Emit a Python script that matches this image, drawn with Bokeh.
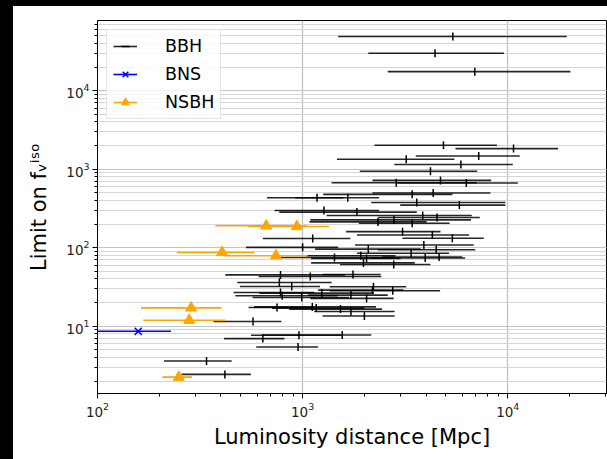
from math import pi
from bokeh.plotting import figure
from bokeh.models import ColumnDataSource, Legend, LegendItem, Div, Range1d
from bokeh.layouts import row, column
from bokeh.embed import file_html
from bokeh.resources import INLINE

# ---- data: luminosity distance (Mpc), lower/upper bound, limit on f_nu^iso ----
bbh_dist = [5400, 4420, 6910, 4860, 10670, 7220, 3200, 5910, 4200, 4700,
            2860, 6280, 4330, 3420, 1175, 1660, 3600, 5810, 1270, 1840,
            3850, 4520, 2790, 2330, 3420, 3070, 4290, 5370, 1120, 1000,
            3900, 2090, 4480, 3380, 1920, 1430, 3960, 4630, 2050, 1980,
            2780, 780, 1090, 1760, 770, 885, 2215, 2750, 2190, 780,
            1240, 1720, 795, 990, 2050, 750, 1115, 1165, 1530, 1720,
            2000, 573, 1560, 960, 640, 950, 340, 418]
bbh_lo = [1490, 2090, 2600, 2240, 5560, 3560, 1470, 2800, 1900, 2190,
          1385, 2900, 2190, 1260, 670, 920, 2160, 2990, 730, 770,
          1310, 2330, 1090, 1080, 1880, 1630, 1840, 3070, 640, 530,
          1800, 1150, 2330, 1840, 1040, 780, 2140, 2440, 1100, 1100,
          1520, 420, 610, 1250, 480, 495, 1355, 1355, 1190, 460,
          615, 1060, 470, 570, 1090, 545, 580, 710, 860, 1140,
          1250, 368, 634, 560, 414, 594, 211, 257]
bbh_hi = [19400, 9580, 20200, 8860, 17600, 11440, 5490, 10580, 7100, 8300,
          7070, 11200, 8230, 5370, 1580, 2360, 9740, 9740, 2360, 3600,
          6680, 7310, 6620, 4020, 5210, 4700, 6480, 7640, 1710, 1490,
          6820, 3760, 6940, 5170, 2840, 2810, 6200, 6000, 3000, 3520,
          4200, 1610, 2420, 2400, 1385, 1216, 3200, 4680, 3100, 1140,
          2230, 2600, 1480, 1680, 2780, 1140, 2280, 2000, 2440, 2810,
          2810, 787, 2160, 1540, 815, 1190, 451, 559]
bbh_lim = [49000, 30000, 17500, 2020, 1830, 1475, 1340, 1150, 940, 720,
           673, 667, 497, 478, 433, 433, 377, 349, 298, 284,
           257, 243, 226, 213, 205, 160, 145, 132, 131, 101,
           108, 96, 94, 85, 79, 75, 74, 76, 73, 64,
           61, 45, 43, 45.5, 36, 32, 31.8, 28.3, 28.8, 26.9,
           26.4, 24.9, 24.4, 23.2, 22.6, 17.3, 17.6, 17.0, 16.5, 15.4,
           13.5, 11.45, 7.73, 7.65, 6.94, 5.43, 3.60, 2.43]

bns_dist = [158]
bns_lo = [95]
bns_hi = [228]
bns_lim = [8.6]

nsbh_dist = [665, 937, 405, 741, 286, 280, 249]
nsbh_lo = [375, 544, 244, 419, 163, 167, 207]
nsbh_hi = [1044, 1344, 581, 1058, 402, 419, 289]
nsbh_lim = [190, 186, 87, 79, 17.1, 11.9, 2.24]

legend_labels = ["BBH", "BNS", "NSBH"]

FONT = "DejaVu Sans"

p = figure(width=594, height=453, x_axis_type="log", y_axis_type="log",
           x_range=Range1d(100, 30300), y_range=Range1d(1.387, 78500),
           output_backend="svg", toolbar_location=None,
           min_border_left=84, min_border_right=1, min_border_top=14,
           min_border_bottom=66, background_fill_color="white",
           border_fill_color="white", margin=0)

bbh_src = ColumnDataSource(dict(d=bbh_dist, lo=bbh_lo, hi=bbh_hi, lim=bbh_lim))
bns_src = ColumnDataSource(dict(d=bns_dist, lo=bns_lo, hi=bns_hi, lim=bns_lim))
nsbh_src = ColumnDataSource(dict(d=nsbh_dist, lo=nsbh_lo, hi=nsbh_hi, lim=nsbh_lim))

bbh_seg = p.segment(x0="lo", y0="lim", x1="hi", y1="lim", source=bbh_src,
                    line_color="black", line_alpha=0.85, line_width=1.6)
bbh_pts = p.scatter(x="d", y="lim", source=bbh_src, marker="dash", angle=pi / 2,
                    size=8, line_color="black", line_width=1.5)

bns_seg = p.segment(x0="lo", y0="lim", x1="hi", y1="lim", source=bns_src,
                    line_color="blue", line_width=1.6)
bns_pts = p.scatter(x="d", y="lim", source=bns_src, marker="x", size=10,
                    line_color="blue", line_width=1.5)

nsbh_seg = p.segment(x0="lo", y0="lim", x1="hi", y1="lim", source=nsbh_src,
                     line_color="orange", line_width=1.6)
nsbh_pts = p.scatter(x="d", y="lim", source=nsbh_src, marker="triangle", size=11,
                     fill_color="orange", line_color="orange")

legend = Legend(items=[
    LegendItem(label=legend_labels[0], renderers=[bbh_seg, bbh_pts]),
    LegendItem(label=legend_labels[1], renderers=[bns_seg, bns_pts]),
    LegendItem(label=legend_labels[2], renderers=[nsbh_seg, nsbh_pts]),
], location="top_left")
legend.label_text_font = FONT
legend.label_text_font_size = "17.5px"
legend.label_text_color = "black"
legend.border_line_color = "#cccccc"
legend.border_line_width = 1
legend.background_fill_alpha = 0.8
legend.margin = 9
legend.padding = 6
legend.spacing = 8
legend.glyph_width = 24
legend.glyph_height = 20
legend.label_standoff = 28
p.add_layout(legend)

# axes
p.xaxis.axis_label = "Luminosity distance [Mpc]"
p.yaxis.axis_label = "Limit on fᵥⁱˢᵒ"
for ax in (p.xaxis[0], p.yaxis[0]):
    ax.axis_label_text_font = FONT
    ax.axis_label_text_font_size = "21px"
    ax.axis_label_text_font_style = "normal"
    ax.axis_label_text_color = "black"
    ax.major_label_text_font = FONT
    ax.major_label_text_font_size = "13.5px"
    ax.major_label_text_color = "#222222"
    ax.major_tick_out = 5
    ax.major_tick_in = 0
    ax.minor_tick_out = 3
    ax.minor_tick_in = 0
    ax.axis_line_color = "black"
    ax.major_tick_line_color = "black"
    ax.minor_tick_line_color = "black"
    ax.major_label_standoff = 3
p.xaxis.axis_label_standoff = 5
p.yaxis.axis_label_standoff = 12

p.xgrid.grid_line_color = "#c0c0c0"
p.xgrid.grid_line_width = 1.3
p.xgrid.minor_grid_line_color = None
p.ygrid.grid_line_color = "#c4c4c4"
p.ygrid.grid_line_width = 1.2
p.ygrid.minor_grid_line_color = "#d6d6d6"
p.ygrid.minor_grid_line_width = 1

p.outline_line_color = "black"
p.outline_line_width = 1

left_bar = Div(text="", width=13, height=459, margin=0,
               styles={"background-color": "black"})
top_bar = Div(text="", width=594, height=6, margin=0,
              styles={"background-color": "black"})
layout = row(left_bar, column(top_bar, p, spacing=0, margin=0), spacing=0, margin=0)

open("out.html", "w").write(file_html(layout, INLINE))
